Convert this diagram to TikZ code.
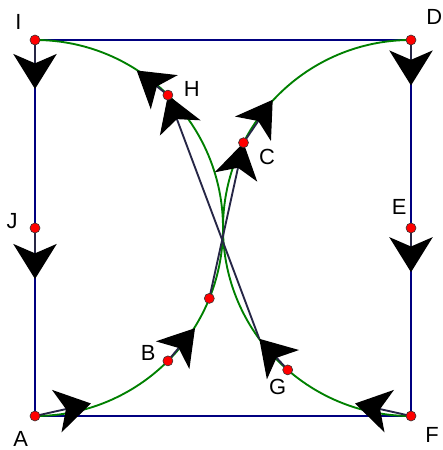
\documentclass[tikz,border=0pt]{standalone}
\usepackage{fontspec}
\setmainfont{Liberation Sans}
\usetikzlibrary{arrows.meta}
\definecolor{sidecol}{RGB}{0,0,128}
\definecolor{veccol}{RGB}{38,38,70}
\definecolor{pathcol}{RGB}{0,128,0}

\begin{document}
\begin{tikzpicture}[x=0.03cm, y=0.03cm,
  >={Stealth[length=1.05cm, width=1.3cm, inset=0.28cm, color=black]},
  side/.style={draw=sidecol, line width=1.9pt},
  curve/.style={draw=pathcol, line width=1.6pt},
  vec/.style={draw=veccol, line width=1.6pt, ->},
  dot/.style={circle, fill=red, draw=black!80, line width=0.5pt, inner sep=0pt, minimum size=0.3cm},
  lbl/.style={inner sep=0pt, font=\fontsize{18.7}{22}\selectfont}]
\useasboundingbox (0,0) rectangle (442,450);
% points on the square and on the arcs
\coordinate (A) at (35,34);
\coordinate (F) at (411,34);
\coordinate (D) at (411,410);
\coordinate (I) at (35,410);
\coordinate (J) at (35,222);
\coordinate (E) at (411,222);
\coordinate (B) at (167.9,89.1);
\coordinate (P) at (209.3,151.6);
\coordinate (C) at (243.5,307.3);
\coordinate (H) at (167.9,354.9);
\coordinate (G) at (287.7,80.1);
% ends of the vectors
\coordinate (tA) at (91,46.5);
\coordinate (tF) at (355,46.5);
\coordinate (tI) at (35,361);
\coordinate (tJ) at (35,171);
\coordinate (tD) at (411,364.5);
\coordinate (tE) at (411,177.8);
\coordinate (tB) at (195,121.8);
\coordinate (tC) at (272.7,350.2);
\coordinate (tH) at (136.7,379.5);
\coordinate (tG) at (259.3,111.2);

\draw[side] (I) -- (D) -- (F) -- (A) -- cycle;
\draw[curve] (A) arc[start angle=-90, end angle=0, radius=5.64cm]
  arc[start angle=180, end angle=90, radius=5.64cm];
\draw[curve] (I) arc[start angle=90, end angle=0, radius=5.64cm]
  arc[start angle=180, end angle=270, radius=5.64cm];

\draw[vec] (I) -- (tI);
\draw[vec] (J) -- (tJ);
\draw[vec] (D) -- (tD);
\draw[vec] (E) -- (tE);
\draw[vec] (A) -- (tA);
\draw[vec] (F) -- (tF);
\draw[vec] (B) -- (tB);
\draw[vec] (P) -- (C);
\draw[vec] (C) -- (tC);
\draw[vec] (H) -- (tH);
\draw[vec] (G) -- (tG);
\draw[vec] (tG) -- (H);

\node[dot] (dA) at (A) {};
\node[dot] (dF) at (F) {};
\node[dot] (dD) at (D) {};
\node[dot] (dI) at (I) {};
\node[dot] (dJ) at (J) {};
\node[dot] (dE) at (E) {};
\node[dot] (dB) at (B) {};
\node[dot] (dP) at (P) {};
\node[dot] (dC) at (C) {};
\node[dot] (dH) at (H) {};
\node[dot] (dG) at (G) {};

\node[lbl] (lA) at (20.7,11) {A};
\node[lbl] (lF) at (432,15) {F};
\node[lbl] (lD) at (434.3,433.3) {D};
\node[lbl] (lI) at (18.3,428.3) {I};
\node[lbl] (lJ) at (12,229) {J};
\node[lbl] (lE) at (399.3,243.3) {E};
\node[lbl] (lB) at (148.3,96.7) {B};
\node[lbl] (lC) at (267,292.7) {C};
\node[lbl] (lH) at (191.7,360.7) {H};
\node[lbl] (lG) at (277.7,63.3) {G};
\end{tikzpicture}
\end{document}
